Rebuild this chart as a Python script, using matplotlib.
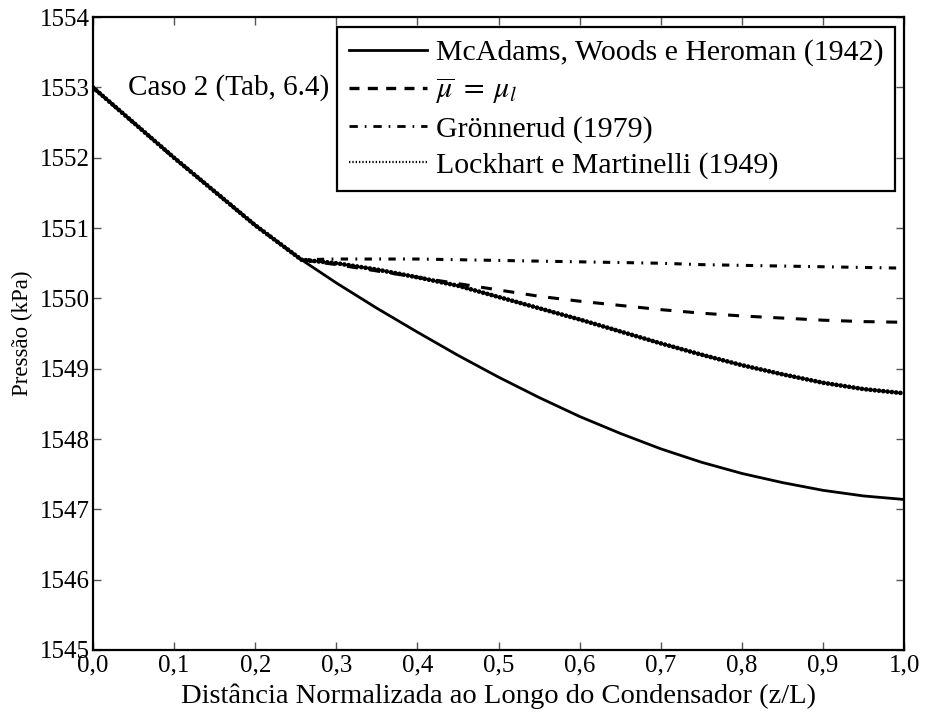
import matplotlib
matplotlib.use("Agg")
import matplotlib.pyplot as plt
from matplotlib.lines import Line2D
import numpy as np

plt.rcParams['font.family'] = ['Liberation Serif', 'DejaVu Serif']
plt.rcParams['mathtext.fontset'] = 'stix'

# trecho comum (monofasico) ate z/L ~ 0.257
z_comum = [0.0, 0.05, 0.10, 0.15, 0.20, 0.257]
p_comum = [1553.0, 1552.50, 1552.00, 1551.52, 1551.04, 1550.55]

# trecho bifasico
z_bif = [0.30, 0.35, 0.40, 0.45, 0.50, 0.55, 0.60, 0.65, 0.70,
         0.75, 0.80, 0.85, 0.90, 0.95, 1.0]
p_mcadams = [1550.22, 1549.86, 1549.52, 1549.19, 1548.88, 1548.59, 1548.32, 1548.08,
             1547.86, 1547.67, 1547.51, 1547.38, 1547.27, 1547.19, 1547.14]
p_mu_l = [1550.48, 1550.39, 1550.30, 1550.21, 1550.12, 1550.03, 1549.96, 1549.90,
          1549.84, 1549.79, 1549.75, 1549.72, 1549.69, 1549.67, 1549.66]
p_gronnerud = [1550.56, 1550.56, 1550.56, 1550.55, 1550.54, 1550.53, 1550.52, 1550.51,
               1550.50, 1550.48, 1550.47, 1550.46, 1550.45, 1550.44, 1550.43]
p_lockhart = [1550.50, 1550.41, 1550.30, 1550.18, 1550.02, 1549.86, 1549.70, 1549.53,
              1549.36, 1549.20, 1549.05, 1548.92, 1548.80, 1548.71, 1548.65]

labels = ["McAdams, Woods e Heroman (1942)",
          r"$\overline{\mu}\;=\;\mu_l$",
          u"Grönnerud (1979)",
          "Lockhart e Martinelli (1949)"]

z = np.array(z_comum + z_bif)

fig = plt.figure(figsize=(9.25, 7.15), dpi=100)
ax = fig.add_axes([0.1005, 0.091, 0.877, 0.885])

ax.plot(z, p_comum + p_mcadams, color='k', lw=2.0, solid_capstyle='butt')
ax.plot(z, p_comum + p_mu_l, color='k', lw=2.2, dashes=(3.6, 3.8))
ax.plot(z, p_comum + p_gronnerud, color='k', lw=2.2, dashes=(2.4, 2.4, 0.6, 2.4))
ax.plot(z, p_comum + p_lockhart, color='k', lw=3.4, dashes=(0.01, 0.9),
        dash_capstyle='round')

ax.text(0.043, 1553.0, "Caso 2 (Tab, 6.4)", va='center', ha='left', fontsize=21)

ax.set_xlim(0, 1)
ax.set_ylim(1545, 1554)
ax.set_xticks(np.arange(0, 1.01, 0.1))
ax.set_xticklabels([("%.1f" % v).replace('.', ',') for v in np.arange(0, 1.01, 0.1)])
ax.set_yticks(np.arange(1545, 1555, 1))
ax.tick_params(direction='in', length=6, width=1, top=True, right=True,
               labelsize=18, pad=2, color='#555555')
ax.tick_params(axis='x', pad=3)
for s in ax.spines.values():
    s.set_linewidth(1.6)

ax.set_xlabel(u"Distância Normalizada ao Longo do Condensador (z/L)", fontsize=20.5, labelpad=5)
ax.set_ylabel(u"Pressão (kPa)", fontsize=16.5, labelpad=5)

handles = [Line2D([], [], color='k', lw=2.0),
           Line2D([], [], color='k', lw=2.4, dashes=(3, 2.5)),
           Line2D([], [], color='k', lw=2.0, dashes=(3, 2.5, 0.6, 2.5)),
           Line2D([], [], color='k', lw=1.6, dashes=(0.6, 0.9))]
leg = ax.legend(handles, labels, loc='upper left', bbox_to_anchor=(0.301, 0.984),
                borderaxespad=0, fontsize=21.5, fancybox=False, framealpha=1,
                edgecolor='k', handlelength=2.6, handletextpad=0.3,
                labelspacing=0.3, borderpad=0.4)
leg.get_frame().set_linewidth(1.6)

plt.savefig("out.png", dpi=100)
